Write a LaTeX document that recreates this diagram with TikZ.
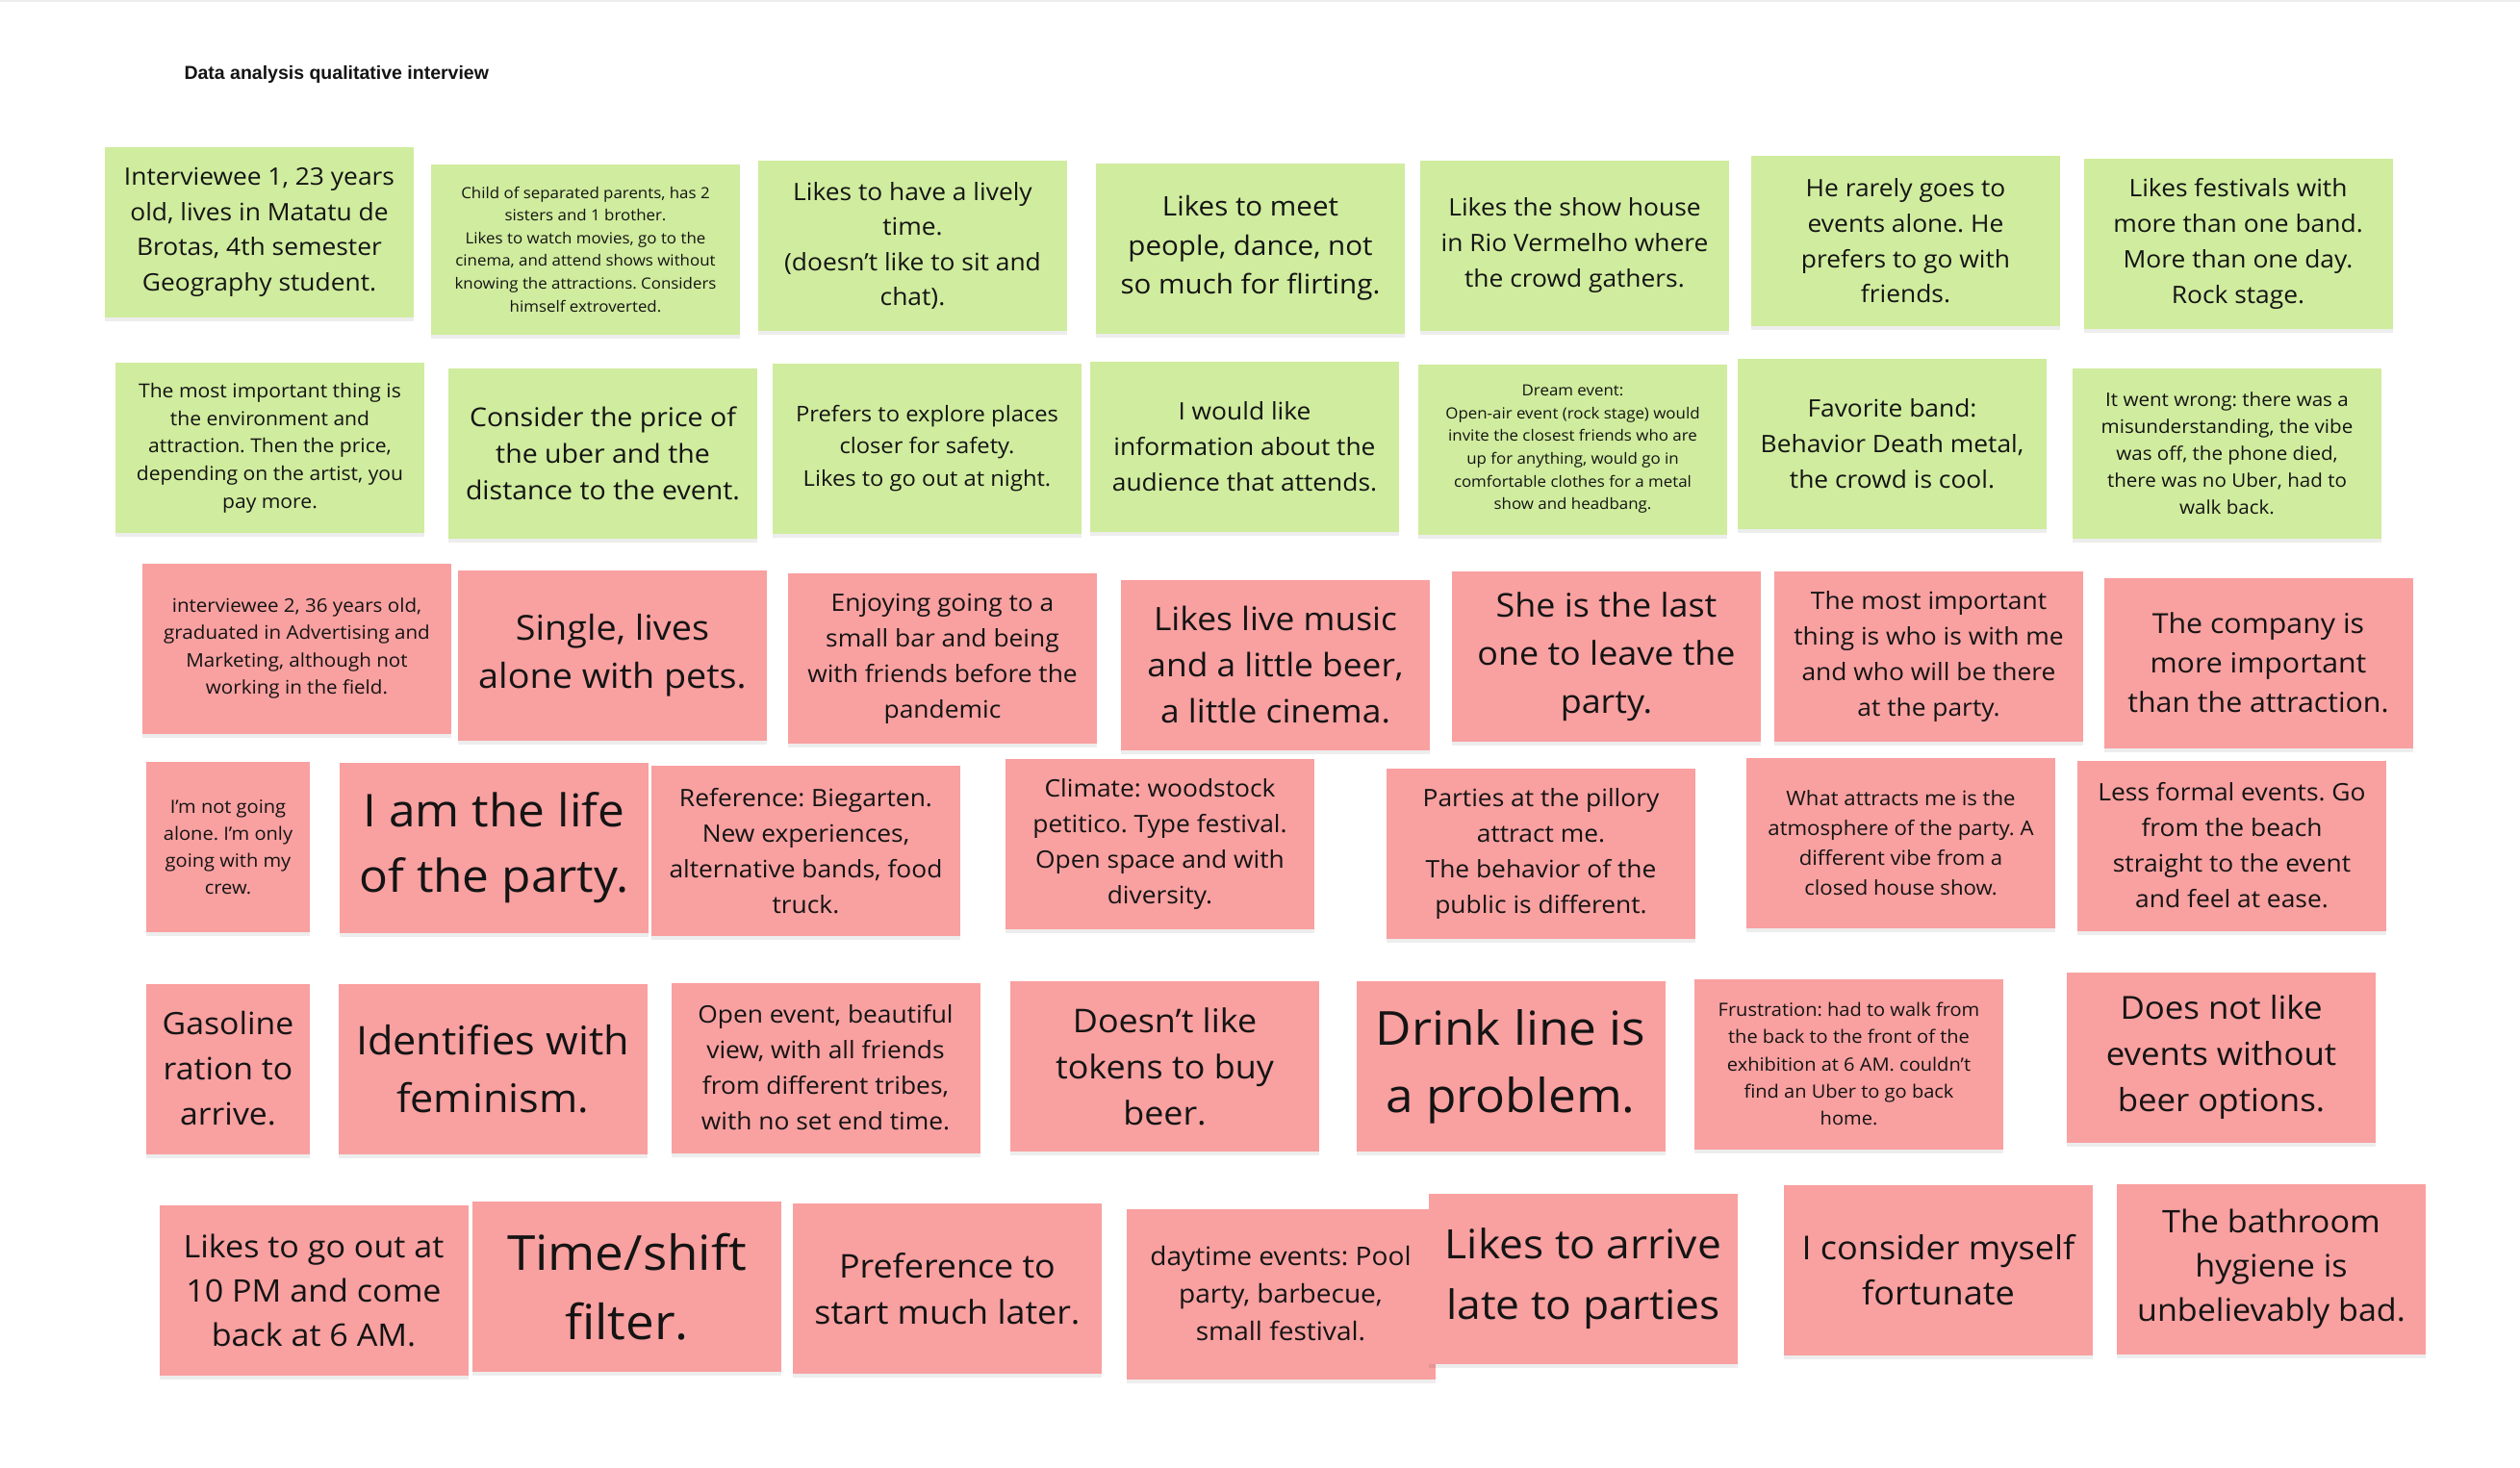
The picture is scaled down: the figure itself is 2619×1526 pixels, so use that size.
\documentclass[tikz,border=0pt]{standalone}
\usepackage{fontspec}
\setmainfont{Open Sans}[FakeStretch=1.055]
\newfontfamily\titlefont{Liberation Sans}
\usetikzlibrary{shadows}
\definecolor{notegreen}{RGB}{208,236,158}
\definecolor{notered}{RGB}{249,160,160}
\definecolor{inktext}{RGB}{20,20,20}
\newcommand\fsz[2]{\fontsize{#1pt}{#2pt}\selectfont\frenchspacing}
\tikzset{
  card/.style={rectangle, inner sep=0pt, minimum width=321pt, minimum height=177pt,
    align=center, text=inktext,
    drop shadow={shadow xshift=0pt, shadow yshift=-4pt, opacity=0.07, fill=black}},
  gcard/.style={card, fill=notegreen},
  rcard/.style={card, fill=notered},
  narrow/.style={minimum width=170pt},
}
\begin{document}
\begin{tikzpicture}[x=1pt,y=-1pt]
\useasboundingbox[fill=white] (0,0) rectangle (2619,1526);
\fill[black!7] (0,0) rectangle (2619,2);
\node[anchor=west, font=\titlefont\bfseries\fsz{19.5}{23}, text=inktext] (title) at (188,77) {Data analysis qualitative interview};

% Row 1
\node[gcard, font=\fsz{25}{36.6}] (g11) at (269.5,241.5) {Interviewee 1, 23 years\\old, lives in Matatu de\\Brotas, 4th semester\\Geography student.};
\node[gcard, font=\fsz{16}{23.6}] (g12) at (608.5,259) {Child of separated parents, has 2\\sisters and 1 brother.\\Likes to watch movies, go to the\\cinema, and attend shows without\\knowing the attractions. Considers\\himself extroverted.};
\node[gcard, font=\fsz{25}{36.6}] (g13) at (948.5,255.5) {Likes to have a lively\\time.\\(doesn't like to sit and\\chat).};
\node[gcard, font=\fsz{28}{40.3}] (g14) at (1299.5,258) {Likes to meet\\people, dance, not\\so much for flirting.};
\node[gcard, font=\fsz{25}{37}] (g15) at (1636.5,255) {Likes the show house\\in Rio Vermelho where\\the crowd gathers.};
\node[gcard, font=\fsz{25}{36.6}] (g16) at (1980.5,250.5) {He rarely goes to\\events alone. He\\prefers to go with\\friends.};
\node[gcard, font=\fsz{25}{37}] (g17) at (2326,253.5) {Likes festivals with\\more than one band.\\More than one day.\\Rock stage.};

% Row 2
\node[gcard, font=\fsz{20}{28.7}] (g21) at (280.5,465.5) {The most important thing is\\the environment and\\attraction. Then the price,\\depending on the artist, you\\pay more.};
\node[gcard, font=\fsz{27}{38.3}] (g22) at (626.5,471.5) {Consider the price of\\the uber and the\\distance to the event.};
\node[gcard, font=\fsz{22.5}{33.3}] (g23) at (963.5,466) {Prefers to explore places\\closer for safety.\\Likes to go out at night.};
\node[gcard, font=\fsz{25}{37}] (g24) at (1293.5,464) {I would like\\information about the\\audience that attends.};
\node[gcard, font=\fsz{16}{23.6}] (g25) at (1634.5,467) {Dream event:\\Open-air event (rock stage) would\\invite the closest friends who are\\up for anything, would go in\\comfortable clothes for a metal\\show and headbang.};
\node[gcard, font=\fsz{25}{37}] (g26) at (1966.5,461.5) {Favorite band:\\Behavior Death metal,\\the crowd is cool.};
\node[gcard, font=\fsz{19.5}{28}] (g27) at (2314.5,471) {It went wrong: there was a\\misunderstanding, the vibe\\was off, the phone died,\\there was no Uber, had to\\walk back.};

% Row 3
\node[rcard, font=\fsz{19.5}{28.3}] (r31) at (308.5,674) {interviewee 2, 36 years old,\\graduated in Advertising and\\Marketing, although not\\working in the field.};
\node[rcard, font=\fsz{35.8}{50}] (r32) at (636.5,681.5) {Single, lives\\alone with pets.};
\node[rcard, font=\fsz{25}{37}] (r33) at (979.5,684.5) {Enjoying going to a\\small bar and being\\with friends before the\\pandemic};
\node[rcard, font=\fsz{33.5}{48}] (r34) at (1325.5,691) {Likes live music\\and a little beer,\\a little cinema.};
\node[rcard, font=\fsz{34}{50}] (r35) at (1669.5,682.5) {She is the last\\one to leave the\\party.};
\node[rcard, font=\fsz{25}{37}] (r36) at (2004.5,682.5) {The most important\\thing is who is with me\\and who will be there\\at the party.};
\node[rcard, font=\fsz{28.7}{41}] (r37) at (2347,689) {The company is\\more important\\than the attraction.};

% Row 4
\node[rcard, narrow, font=\fsz{19}{28}] (r41) at (237,880.5) {I'm not going\\alone. I'm only\\going with my\\crew.};
\node[rcard, font=\fsz{47}{68}] (r42) at (513.5,881.5) {I am the life\\of the party.};
\node[rcard, font=\fsz{25}{37}] (r43) at (837.5,884.5) {Reference: Biegarten.\\New experiences,\\alternative bands, food\\truck.};
\node[rcard, font=\fsz{25}{37}] (r44) at (1205.5,877.5) {Climate: woodstock\\petitico. Type festival.\\Open space and with\\diversity.};
\node[rcard, font=\fsz{25}{37}] (r45) at (1601.5,887) {Parties at the pillory\\attract me.\\The behavior of the\\public is different.};
\node[rcard, font=\fsz{21}{31}] (r46) at (1975.5,876.5) {What attracts me is the\\atmosphere of the party. A\\different vibe from a\\closed house show.};
\node[rcard, font=\fsz{25}{37}] (r47) at (2319.5,879) {Less formal events. Go\\from the beach\\straight to the event\\and feel at ease.};

% Row 5
\node[rcard, narrow, font=\fsz{32}{47}] (r51) at (237,1111) {Gasoline\\ration to\\arrive.};
\node[rcard, font=\fsz{41}{60}] (r52) at (512,1111) {Identifies with\\feminism.};
\node[rcard, font=\fsz{25}{37}] (r53) at (858,1110) {Open event, beautiful\\view, with all friends\\from different tribes,\\with no set end time.};
\node[rcard, font=\fsz{34}{48}] (r54) at (1210.5,1108.5) {Doesn't like\\tokens to buy\\beer.};
\node[rcard, font=\fsz{48.7}{70}] (r55) at (1570,1108.5) {Drink line is\\a problem.};
\node[rcard, font=\fsz{19}{28.3}] (r56) at (1921.5,1106) {Frustration: had to walk from\\the back to the front of the\\exhibition at 6 AM. couldn't\\find an Uber to go back\\home.};
\node[rcard, font=\fsz{33}{48}] (r57) at (2308.5,1099) {Does not like\\events without\\beer options.};

% Row 6
\node[rcard, font=\fsz{32.3}{46}] (r61) at (326,1341) {Likes to go out at\\10 PM and come\\back at 6 AM.};
\node[rcard, font=\fsz{50.2}{72}] (r62) at (651.5,1337.5) {Time/shift\\filter.};
\node[rcard, font=\fsz{34}{48}] (r63) at (984.5,1339.5) {Preference to\\start much later.};
\node[rcard, font=\fsz{26.6}{39}] (r64) at (1331,1345) {daytime events: Pool\\party, barbecue,\\small festival.};
\node[rcard, font=\fsz{42}{63}] (r65) at (1645.5,1329) {Likes to arrive\\late to parties};
\node[rcard, font=\fsz{34.2}{47}] (r66) at (2014.5,1320) {I consider myself\\fortunate};
\node[rcard, font=\fsz{32.3}{46}] (r67) at (2360.5,1319.5) {The bathroom\\hygiene is\\unbelievably bad.};
\end{tikzpicture}
\end{document}
